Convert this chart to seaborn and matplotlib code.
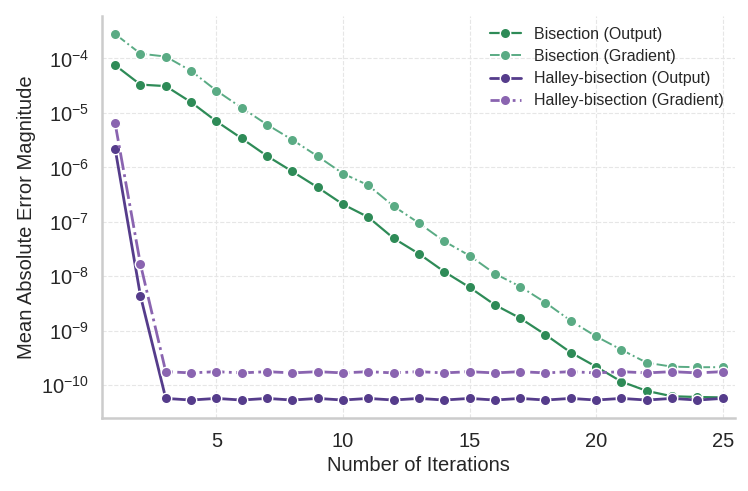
import numpy as np
import pandas as pd
import matplotlib
matplotlib.use('Agg')
import matplotlib.pyplot as plt
import seaborn as sns

# iteration counts
iterations = list(range(1, 26))

# errors
bisection_output = [7.5e-5, 3.3e-5, 3.1e-5, 1.57e-5, 7.0e-6, 3.4e-6, 1.62e-6, 8.4e-7,
                    4.3e-7, 2.1e-7, 1.22e-7, 5.0e-8, 2.6e-8, 1.22e-8, 6.3e-9, 3.0e-9,
                    1.71e-9, 8.5e-10, 4.0e-10, 2.2e-10, 1.17e-10, 7.9e-11, 6.3e-11,
                    6.1e-11, 6.0e-11]
bisection_gradient = [2.8e-4, 1.22e-4, 1.08e-4, 5.9e-5, 2.56e-5, 1.24e-5, 6.1e-6, 3.2e-6,
                      1.6e-6, 7.7e-7, 4.7e-7, 1.94e-7, 9.5e-8, 4.4e-8, 2.4e-8, 1.12e-8,
                      6.5e-9, 3.3e-9, 1.53e-9, 7.9e-10, 4.5e-10, 2.6e-10, 2.2e-10,
                      2.15e-10, 2.15e-10]
halley_output = [2.2e-6, 4.4e-9] + [5.75e-11 if i % 2 == 1 else 5.37e-11 for i in range(3, 26)]
halley_gradient = [6.4e-6, 1.67e-8] + [1.78e-10 if i % 2 == 1 else 1.69e-10 for i in range(3, 26)]

series = [
    ('Bisection (Output)', bisection_output, '#2e8b57', '-', 1.6),
    ('Bisection (Gradient)', bisection_gradient, '#5aab84', '-.', 1.4),
    ('Halley-bisection (Output)', halley_output, '#553c8b', '-', 2.0),
    ('Halley-bisection (Gradient)', halley_gradient, '#8a64b0', '-.', 2.0),
]

sns.set_theme(style='whitegrid')
plt.rcParams['font.family'] = ['Liberation Sans', 'DejaVu Sans']
plt.rcParams['mathtext.fontset'] = 'custom'
plt.rcParams['mathtext.rm'] = 'Liberation Sans'
plt.rcParams['mathtext.it'] = 'Liberation Sans:italic'
plt.rcParams['mathtext.bf'] = 'Liberation Sans:bold'

fig, ax = plt.subplots(figsize=(7.48, 4.91), dpi=100)
fig.subplots_adjust(left=0.137, right=0.983, top=0.968, bottom=0.148)

for name, vals, color, ls, lw in series:
    df = pd.DataFrame({'iteration': iterations, 'error': vals})
    sns.lineplot(data=df, x='iteration', y='error', ax=ax, color=color, linestyle=ls,
                 linewidth=lw, marker='o', markersize=7.5, markeredgecolor='white',
                 markeredgewidth=1.0, label=name)

ax.set_yscale('log')
ax.set_xlim(0.5, 25.5)
ax.set_xticks([5, 10, 15, 20, 25])
ax.yaxis.set_major_locator(matplotlib.ticker.LogLocator(base=10, numticks=20))
ax.yaxis.set_minor_locator(matplotlib.ticker.NullLocator())
ax.tick_params(axis='both', labelsize=14.5)
ax.set_xlabel('Number of Iterations', fontsize=14.5)
ax.set_ylabel('Mean Absolute Error Magnitude', fontsize=14.5)
ax.grid(True, linestyle='--', color='#e6e6e6', linewidth=0.8)

sns.despine(ax=ax)
for side in ['left', 'bottom']:
    ax.spines[side].set_color('#cccccc')
    ax.spines[side].set_linewidth(1.8)

ax.legend(loc='upper right', frameon=False, fontsize=11.5, handlelength=2.0,
          labelspacing=0.45, borderaxespad=0.3)

plt.savefig('out.png', dpi=100)
